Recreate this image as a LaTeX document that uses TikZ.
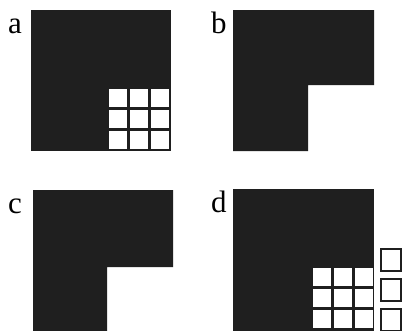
\documentclass[tikz,border=0pt]{standalone}
\usepackage{fontspec}
\setmainfont{Liberation Serif}
\usetikzlibrary{positioning}

\tikzset{
  panel/.style={fill=black!88,draw=none},
  cell/.style={fill=white,draw=none},
  loosecell/.style={fill=white,draw=black!88,line width=2.8pt},
  tag/.style={anchor=base west,inner sep=0pt,font=\fontsize{31}{31}\selectfont}
}

\begin{document}
\begin{tikzpicture}[x=1pt,y=-1pt]
\useasboundingbox[fill=white] (0,0) rectangle (403,330);
\clip (0,0) rectangle (403,330);
% a
\node[tag] (la) at (8,33) {a};
\fill[panel] (31,10) rectangle (171,151);
\foreach \i in {0,1,2}
  \foreach \j in {0,1,2}
    \fill[cell] (108.5+21*\i,88.5+21*\j) rectangle ++(18,18);
% b
\node[tag] (lb) at (211,33) {b};
\fill[panel] (233,10) -- (374,10) -- (374,85) -- (308,85) -- (308,151) -- (233,151) -- cycle;
% c
\node[tag] (lc) at (8,213) {c};
\fill[panel] (33,190) -- (173,190) -- (173,267) -- (107,267) -- (107,331) -- (33,331) -- cycle;
% d
\node[tag] (ld) at (211,212) {d};
\fill[panel] (233,189) rectangle (374,331);
\foreach \i in {0,1,2}
  \foreach \j in {0,1,2}
    \fill[cell] (312.5+21*\i,267.5+21*\j) rectangle ++(18,18);
\foreach \j in {0,1,2}
  \draw[loosecell] (381,249+30*\j) rectangle ++(20,22);
\end{tikzpicture}
\end{document}
